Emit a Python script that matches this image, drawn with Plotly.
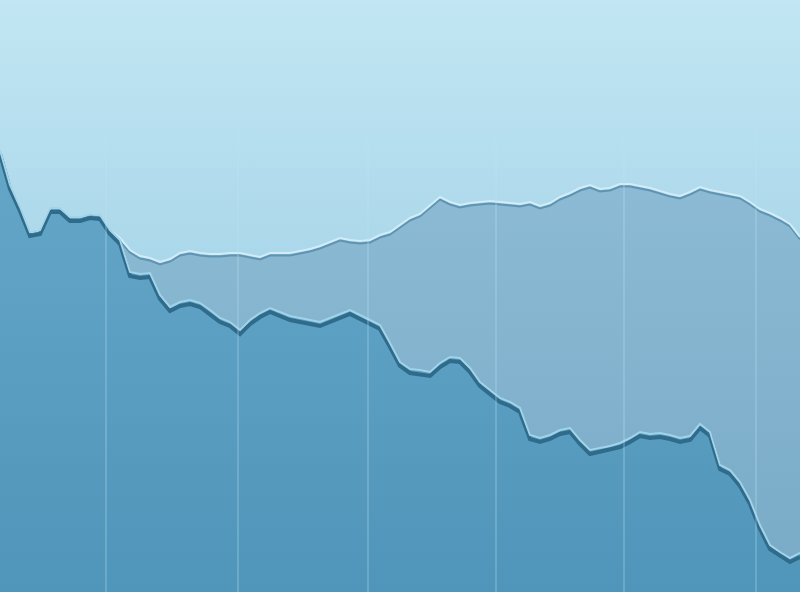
import plotly.graph_objects as go

# x positions of samples (chart units) and two series
x = list(range(0, 801, 10))

lower = [442, 407, 385, 360, 362, 384, 384, 375, 375, 378, 377, 362, 352, 320, 318, 319,
         297, 285, 290, 292, 289, 282, 274, 270, 262, 272, 279, 284, 280, 276, 274, 272,
         270, 274, 278, 282, 277, 272, 267, 249, 230, 223, 222, 220, 229, 235, 234, 224,
         210, 202, 194, 190, 184, 157, 154, 157, 162, 164, 152, 142, 144, 146, 149, 154,
         160, 158, 159, 157, 154, 156, 168, 160, 127, 122, 110, 92, 67, 47, 40, 34, 39]

upper = [442, 407, 385, 360, 362, 384, 384, 375, 375, 378, 377, 362, 354, 342, 336, 334,
         330, 333, 339, 341, 339, 338, 338, 339, 339, 337, 335, 339, 339, 339, 341, 343,
         346, 350, 354, 352, 351, 352, 357, 360, 367, 374, 378, 387, 395, 390, 387, 389,
         390, 391, 390, 389, 388, 390, 386, 389, 395, 399, 404, 407, 403, 404, 408, 408,
         406, 404, 401, 398, 396, 400, 405, 402, 400, 398, 396, 390, 383, 379, 374, 368, 355]

grid_x = [106, 238, 368, 496, 624, 756]
top = 592


def plotting():
    fig = go.Figure()

    # background gradient
    fig.add_trace(go.Scatter(
        x=x, y=[top] * len(x), mode='none', fill='tozeroy',
        fillgradient=dict(type='vertical', start=0, stop=top,
                          colorscale=[[0, '#9fcbe0'], [0.55, '#aad7ea'], [1, '#c2e6f3']]),
        hoverinfo='skip'))

    # upper area
    fig.add_trace(go.Scatter(
        x=x, y=upper, mode='none', fill='tozeroy',
        fillgradient=dict(type='vertical', start=0, stop=400,
                          colorscale=[[0, '#78aac6'], [1, '#8cbad4']]),
        hoverinfo='skip'))

    # lower area
    fig.add_trace(go.Scatter(
        x=x, y=lower, mode='none', fill='tozeroy',
        fillgradient=dict(type='vertical', start=0, stop=440,
                          colorscale=[[0, '#5096ba'], [1, '#64a6c8']]),
        hoverinfo='skip'))

    # embossed edge of upper line
    fig.add_trace(go.Scatter(x=x, y=[v - 2.5 for v in upper], mode='lines',
                             line=dict(color='#5f95b2', width=2), hoverinfo='skip'))
    fig.add_trace(go.Scatter(x=x, y=upper, mode='lines',
                             line=dict(color='#d2edf7', width=2), hoverinfo='skip'))

    # embossed edge of lower line
    fig.add_trace(go.Scatter(x=x, y=[v - 4 for v in lower], mode='lines',
                             line=dict(color='#2f6c8b', width=4), hoverinfo='skip'))
    fig.add_trace(go.Scatter(x=x, y=lower, mode='lines',
                             line=dict(color='#a3d3e8', width=2), hoverinfo='skip'))

    for gx in grid_x:
        fig.add_shape(type='line', x0=gx, x1=gx, y0=0, y1=0.78, xref='x', yref='paper',
                      line=dict(color='rgba(190,228,244,0.5)', width=1), layer='above')

    fig.update_layout(
        width=800, height=592,
        margin=dict(l=0, r=0, t=0, b=0),
        showlegend=False,
        paper_bgcolor='#c2e6f3', plot_bgcolor='#c2e6f3',
        xaxis=dict(range=[0, 800], visible=False, fixedrange=True),
        yaxis=dict(range=[0, top], visible=False, fixedrange=True),
    )

    fig.write_html('out.html', config={'displayModeBar': False},
                   post_script="document.body.style.margin='0';document.body.style.overflow='hidden';")


if __name__ == "__main__":
    plotting()
